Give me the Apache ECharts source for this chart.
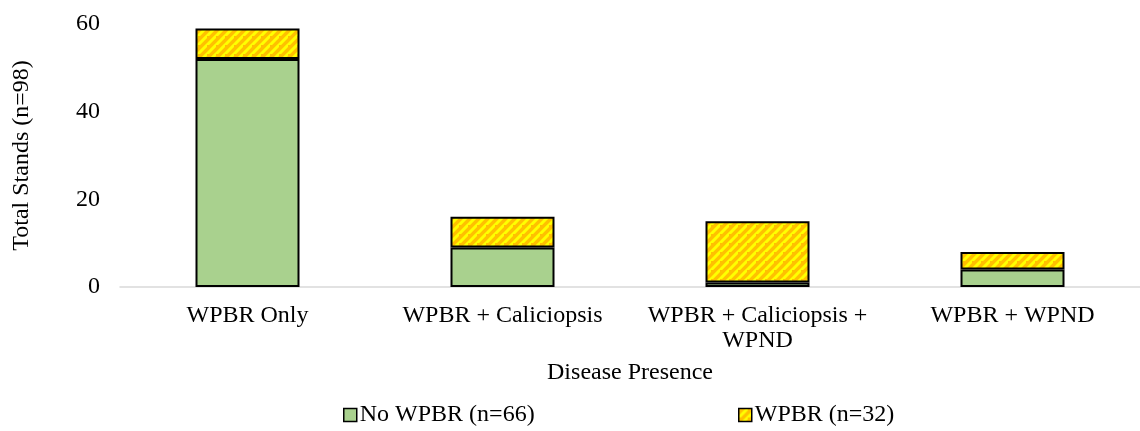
<!DOCTYPE html>
<html>
<head>
<meta charset="utf-8">
<script src="https://cdn.jsdelivr.net/npm/echarts@6/dist/echarts.min.js"></script>
<style>
  html, body { margin: 0; padding: 0; background: #fff; }
  #chart { width: 1140px; height: 431px; }
</style>
</head>
<body>
<div id="chart"></div>
<script>
// Stand counts by disease combination
const categories = ['WPBR Only', 'WPBR + Caliciopsis', 'WPBR + Caliciopsis +\nWPND', 'WPBR + WPND'];
const noWpbr = [52, 9, 1, 4];
const wpbr = [7, 7, 14, 4];
const seriesNames = ['No WPBR (n=66)', 'WPBR (n=32)'];
const yTicks = [0, 20, 40, 60];

// Orange tile with yellow diagonal stripes for the WPBR series
function stripeTile() {
  const s = 9;
  const c = document.createElement('canvas');
  c.width = s; c.height = s;
  const g = c.getContext('2d');
  g.fillStyle = '#FFC000';
  g.fillRect(0, 0, s, s);
  g.strokeStyle = '#FFFF00';
  g.lineWidth = 3;
  g.beginPath();
  g.moveTo(-s, s * 2); g.lineTo(s * 2, -s);
  g.moveTo(-s * 2, s); g.lineTo(s, -s * 2);
  g.moveTo(0, s * 2); g.lineTo(s * 2, 0);
  g.stroke();
  return c;
}
const hatch = { image: stripeTile(), repeat: 'repeat' };
const green = '#A9D18E';
const font = 'Liberation Serif, Times New Roman, serif';
const fs = 24;

const legendBase = {
  icon: 'rect', itemWidth: 13, itemHeight: 13, itemGap: 0, top: 398,
  textStyle: { fontFamily: font, fontSize: fs, color: '#000', padding: [0, 0, 0, -2] },
  itemStyle: { borderColor: '#000', borderWidth: 1.5 }
};

const chart = echarts.init(document.getElementById('chart'));
chart.setOption({
  animation: false,
  textStyle: { fontFamily: font, color: '#000' },
  // plot area runs slightly past the right edge of the canvas
  grid: { left: 120, right: -15, top: 24, bottom: 144 },
  legend: [
    Object.assign({ data: [seriesNames[0]], left: 338 }, legendBase),
    Object.assign({ data: [seriesNames[1]], left: 733 }, legendBase)
  ],
  xAxis: {
    type: 'category',
    data: categories,
    name: 'Disease Presence',
    nameLocation: 'middle',
    nameGap: 74,
    nameTextStyle: { fontFamily: font, fontSize: fs, color: '#000' },
    axisLine: { lineStyle: { color: '#D9D9D9', width: 1.5 } },
    axisTick: { show: false },
    axisLabel: { fontFamily: font, fontSize: fs, color: '#000', margin: 16, lineHeight: 25, interval: 0 }
  },
  yAxis: {
    type: 'value',
    min: yTicks[0],
    max: yTicks[yTicks.length - 1],
    interval: yTicks[1] - yTicks[0],
    name: 'Total Stands (n=98)',
    nameLocation: 'middle',
    nameGap: 86,
    nameRotate: 90,
    nameTextStyle: { fontFamily: font, fontSize: fs, color: '#000' },
    axisLine: { show: false },
    axisTick: { show: false },
    splitLine: { show: false },
    axisLabel: { fontFamily: font, fontSize: fs, color: '#000', margin: 20 }
  },
  series: [
    {
      name: seriesNames[0], type: 'bar', stack: 'total', data: noWpbr,
      barWidth: 104,
      itemStyle: { color: green, borderColor: '#000', borderWidth: 2 }
    },
    {
      name: seriesNames[1], type: 'bar', stack: 'total', data: wpbr,
      barWidth: 104,
      itemStyle: { color: hatch, borderColor: '#000', borderWidth: 2 }
    }
  ]
});
</script>
</body>
</html>
